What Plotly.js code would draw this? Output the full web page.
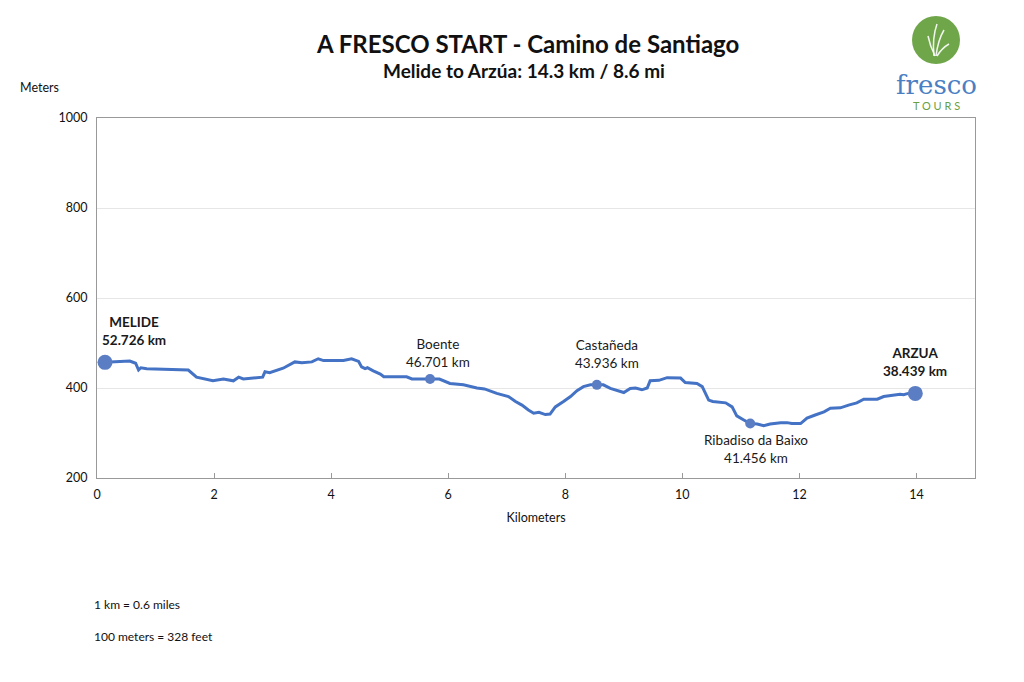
<!DOCTYPE html>
<html>
<head>
<meta charset="utf-8">
<script src="https://cdn.plot.ly/plotly-3.0.1.min.js"></script>
<style>html,body{margin:0;padding:0;background:#fff;}#chart{width:1024px;height:682px;}</style>
</head>
<body>
<div id="chart"></div>
<script>
// Elevation profile (km from Melide, meters)
var profileKm = [0.137, 0.56, 0.66, 0.71, 0.75, 0.85, 1.56, 1.70, 1.98, 2.16, 2.33, 2.42, 2.50, 2.73, 2.83, 2.87, 2.95, 3.18, 3.30, 3.38, 3.50, 3.67, 3.78, 3.87, 4.21, 4.35, 4.47, 4.52, 4.58, 4.62, 4.72, 4.84, 4.90, 5.29, 5.38, 5.69, 5.85, 6.03, 6.26, 6.49, 6.62, 6.83, 7.03, 7.15, 7.26, 7.37, 7.46, 7.55, 7.66, 7.74, 7.83, 7.97, 8.09, 8.20, 8.31, 8.43, 8.54, 8.65, 8.77, 8.88, 9.00, 9.11, 9.20, 9.31, 9.40, 9.45, 9.60, 9.74, 9.97, 10.05, 10.25, 10.34, 10.40, 10.45, 10.52, 10.74, 10.85, 10.93, 11.05, 11.16, 11.28, 11.39, 11.50, 11.68, 11.79, 11.87, 12.02, 12.13, 12.27, 12.42, 12.53, 12.70, 12.84, 12.98, 13.10, 13.33, 13.44, 13.61, 13.72, 13.78, 13.86, 13.98];
var profileElev = [457, 460, 455, 440, 445, 443, 440, 424, 416, 420, 416, 424, 420, 423, 424, 436, 434, 444, 453, 458, 456, 458, 465, 461, 461, 465, 459, 447, 443, 445, 438, 431, 425, 425, 420, 420, 420, 410, 407, 400, 398, 388, 381, 370, 362, 351, 344, 346, 341, 342, 358, 370, 381, 394, 403, 407, 407, 407, 399, 394, 390, 399, 400, 396, 400, 416, 417, 423, 422, 412, 410, 403, 388, 373, 370, 367, 358, 338, 329, 321, 320, 316, 320, 323, 323, 321, 321, 333, 340, 347, 355, 356, 362, 367, 375, 375, 381, 384, 386, 385, 388, 388];

// Stops
var stopNames = ['MELIDE', 'Boente', 'Castañeda', 'Ribadiso da Baixo', 'ARZUA'];
var stopKm = [0.137, 5.69, 8.54, 11.16, 13.98];
var stopElev = [457, 420, 407, 321, 388];
var stopDist = ['52.726 km', '46.701 km', '43.936 km', '41.456 km', '38.439 km'];
var stopMajor = [true, false, false, false, true];

// Axis ticks
var xTicks = [0, 2, 4, 6, 8, 10, 12, 14];
var yTicks = [200, 400, 600, 800, 1000];

var titleText = 'A FRESCO START - Camino de Santiago';
var subtitleText = 'Melide to Arzúa: 14.3 km / 8.6 mi';
var noteLines = ['1 km = 0.6 miles', '100 meters = 328 feet'];

var FONT = 'Lato, "Noto Sans", sans-serif';

var traces = [
  {
    x: profileKm, y: profileElev, type: 'scatter', mode: 'lines',
    line: {color: '#4472c4', width: 3}, hoverinfo: 'x+y', showlegend: false
  },
  {
    x: stopKm, y: stopElev, type: 'scatter', mode: 'markers',
    marker: {color: '#5b7dc4', opacity: 1, size: stopMajor.map(function(m){return m ? 15 : 10;}), line: {width: 0}},
    opacity: 1, hoverinfo: 'text', text: stopNames, showlegend: false
  }
];

// label placement (style)
var labelStyle = [
  {xs: 29, ys: 12, below: false},
  {xs: 8, ys: 7, below: false},
  {xs: 10, ys: 12, below: false},
  {xs: 6, ys: -6, below: true},
  {xs: 0, ys: 12, below: false}
];

var annotations = stopNames.map(function(n, i){
  var st = labelStyle[i];
  var txt = stopMajor[i] ? '<b>' + n + '</b><br><b>' + stopDist[i] + '</b>' : n + '<br>' + stopDist[i];
  return {
    x: stopKm[i], y: stopElev[i], xref: 'x', yref: 'y', text: txt, showarrow: false,
    xanchor: 'center', yanchor: st.below ? 'top' : 'bottom', xshift: st.xs, yshift: st.ys,
    font: {family: FONT, size: 13.5, color: '#1a1a1a'}, align: 'center'
  };
});

function px(x){ return (x - 97) / 878; }
function py(y){ return (478 - y) / 360; }

annotations.push(
  {xref: 'paper', yref: 'paper', x: px(527), y: py(43), text: '<b>' + titleText + '</b>', showarrow: false, xanchor: 'center', yanchor: 'middle', font: {family: FONT, size: 24, color: '#111'}},
  {xref: 'paper', yref: 'paper', x: px(524), y: py(70), text: '<b>' + subtitleText + '</b>', showarrow: false, xanchor: 'center', yanchor: 'middle', font: {family: FONT, size: 19, color: '#111'}},
  {xref: 'paper', yref: 'paper', x: px(40), y: py(87), text: 'Meters', showarrow: false, xanchor: 'center', yanchor: 'middle', font: {family: FONT, size: 12.5, color: '#111'}},
  {xref: 'paper', yref: 'paper', x: px(92), y: py(604), text: noteLines[0], showarrow: false, xanchor: 'left', yanchor: 'middle', font: {family: FONT, size: 12, color: '#111'}},
  {xref: 'paper', yref: 'paper', x: px(92), y: py(636), text: noteLines[1], showarrow: false, xanchor: 'left', yanchor: 'middle', font: {family: FONT, size: 12, color: '#111'}},
  {xref: 'paper', yref: 'paper', x: px(936), y: py(85), text: 'fresco', showarrow: false, xanchor: 'center', yanchor: 'middle', font: {family: '"DejaVu Serif", "Liberation Serif", serif', size: 26, color: '#4a7fc4'}},
  {xref: 'paper', yref: 'paper', x: px(936), y: py(106), text: 'T O U R S', showarrow: false, xanchor: 'center', yanchor: 'middle', font: {family: FONT, size: 11, color: '#6aa043'}}
);

var shapes = [
  {type: 'circle', xref: 'paper', yref: 'paper', x0: px(912), x1: px(960), y0: py(64), y1: py(16), fillcolor: '#6fa64a', line: {width: 0}},
  {type: 'path', xref: 'paper', yref: 'paper', line: {color: 'rgba(255,255,255,0.9)', width: 1.5},
   path: 'M ' + px(934) + ' ' + py(56) + ' Q ' + px(932) + ' ' + py(38) + ' ' + px(937) + ' ' + py(24)},
  {type: 'path', xref: 'paper', yref: 'paper', line: {color: 'rgba(255,255,255,0.9)', width: 1.5},
   path: 'M ' + px(936) + ' ' + py(56) + ' Q ' + px(938) + ' ' + py(40) + ' ' + px(944) + ' ' + py(30)},
  {type: 'path', xref: 'paper', yref: 'paper', line: {color: 'rgba(255,255,255,0.9)', width: 1.5},
   path: 'M ' + px(935) + ' ' + py(56) + ' Q ' + px(930) + ' ' + py(46) + ' ' + px(928) + ' ' + py(36)},
  {type: 'path', xref: 'paper', yref: 'paper', line: {color: 'rgba(255,255,255,0.9)', width: 1.5},
   path: 'M ' + px(937) + ' ' + py(56) + ' Q ' + px(942) + ' ' + py(48) + ' ' + px(949) + ' ' + py(44)}
];

var layout = {
  width: 1024, height: 682,
  margin: {l: 97, r: 49, t: 118, b: 204, pad: 0},
  paper_bgcolor: '#fff', plot_bgcolor: '#fff',
  font: {family: FONT, size: 12, color: '#111'},
  xaxis: {
    range: [0, 15], tickvals: xTicks, ticktext: xTicks.map(String),
    ticks: 'inside', ticklen: 5, tickcolor: '#999', showgrid: false, zeroline: false,
    showline: true, linecolor: '#999', linewidth: 1, mirror: true, ticklabelstandoff: 5,
    tickfont: {family: FONT, size: 12.5, color: '#111'},
    title: {text: 'Kilometers', font: {family: FONT, size: 12.5, color: '#111'}, standoff: 12}
  },
  yaxis: {
    range: [200, 1000], tickvals: yTicks, ticktext: yTicks.map(String),
    ticks: 'outside', ticklen: 6, tickcolor: 'rgba(0,0,0,0)', showgrid: true, gridcolor: '#e6e6e6', zeroline: false,
    showline: true, linecolor: '#999', linewidth: 1, mirror: true,
    tickfont: {family: FONT, size: 12.5, color: '#111'}
  },
  annotations: annotations,
  shapes: shapes,
  showlegend: false
};

Plotly.newPlot('chart', traces, layout, {displayModeBar: false, staticPlot: true});
</script>
</body>
</html>
